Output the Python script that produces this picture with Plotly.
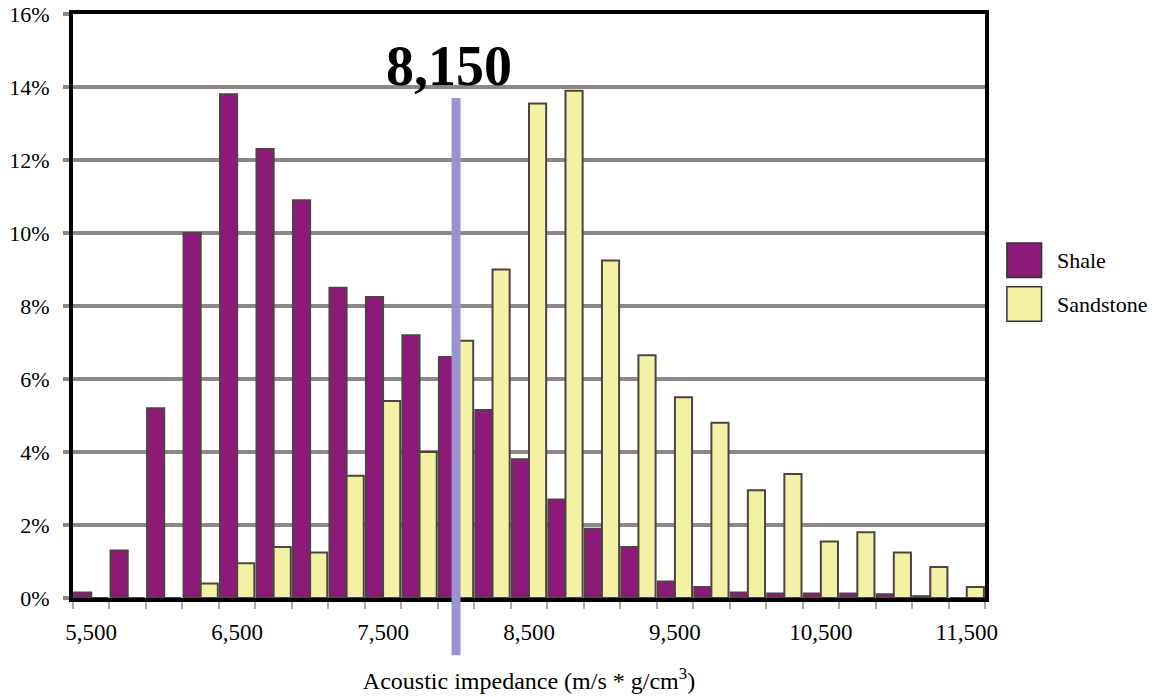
import plotly.graph_objects as go

# Data (percent of samples per acoustic-impedance bin)
bins = [5500, 5750, 6000, 6250, 6500, 6750, 7000, 7250, 7500, 7750, 8000, 8250, 8500,
        8750, 9000, 9250, 9500, 9750, 10000, 10250, 10500, 10750, 11000, 11250, 11500]
shale = [0.15, 1.3, 5.2, 10.0, 13.8, 12.3, 10.9, 8.5, 8.25, 7.2, 6.6, 5.15, 3.8,
         2.7, 1.9, 1.4, 0.45, 0.3, 0.15, 0.12, 0.12, 0.12, 0.1, 0.05, 0.0]
sandstone = [0.0, 0.0, 0.0, 0.4, 0.95, 1.4, 1.25, 3.35, 5.4, 4.0, 7.05, 9.0, 13.55,
             13.9, 9.25, 6.65, 5.5, 4.8, 2.95, 3.4, 1.55, 1.8, 1.25, 0.85, 0.3]
tick_vals = [5500, 6500, 7500, 8500, 9500, 10500, 11500]
tick_text = ["5,500", "6,500", "7,500", "8,500", "9,500", "10,500", "11,500"]
y_ticks = [0, 2, 4, 6, 8, 10, 12, 14, 16]
cutoff_x = 8000
cutoff_label = "8,150"
cutoff_top = 13.7

SHALE = "#8d1a79"
SAND = "#f3f2a4"
EDGE = "#4e4247"
GRID = "#8f8787"
FONT = "Liberation Serif, Times New Roman, serif"

fig = go.Figure()
fig.add_trace(go.Bar(x=bins, y=shale, name="Shale", marker=dict(color=SHALE, line=dict(color=EDGE, width=2))))
fig.add_trace(go.Bar(x=bins, y=sandstone, name="Sandstone", marker=dict(color=SAND, line=dict(color=EDGE, width=2))))

step = bins[1] - bins[0]
fig.update_layout(
    width=1158, height=697,
    margin=dict(l=73, r=173, t=14, b=99),
    paper_bgcolor="white", plot_bgcolor="white",
    barmode="group", bargap=0.06, bargroupgap=0.0,
    showlegend=False,
    font=dict(family=FONT, color="black", size=22),
)
fig.update_xaxes(
    automargin=False,
    range=[bins[0] - step / 2, bins[-1] + step / 2],
    tickvals=tick_vals, ticktext=tick_text, ticks="", ticklabelstandoff=10,
    ticklabeloverflow="allow",
    tickfont=dict(family=FONT, size=23),
    showgrid=False, zeroline=False,
    showline=True, linecolor="black", linewidth=4, mirror=True,
    minor=dict(tickvals=[b - step / 2 for b in bins] + [bins[-1] + step / 2],
               ticks="outside", ticklen=7, tickwidth=2, tickcolor="#b0aaaa", showgrid=False),
    title=dict(text="Acoustic impedance (m/s * g/cm<sup>3</sup>)", font=dict(family=FONT, size=24), standoff=30),
)
fig.update_yaxes(
    automargin=False,
    range=[0, 16], tickvals=y_ticks, ticktext=[f"{v}%" for v in y_ticks],
    ticks="outside", ticklen=6, tickwidth=4, tickcolor=GRID, ticklabelstandoff=9,
    ticklabeloverflow="allow",
    tickfont=dict(family=FONT, size=22),
    showgrid=True, gridcolor=GRID, gridwidth=4, zeroline=False,
    showline=True, linecolor="black", linewidth=4, mirror=True,
)

# cutoff line
fig.add_shape(type="line", xref="x", yref="paper", x0=cutoff_x, x1=cutoff_x,
              y0=-0.098, y1=cutoff_top / 16, line=dict(color="#9a92d2", width=9), layer="above")
fig.add_annotation(x=cutoff_x, y=14, xref="x", yref="y", text=f"<b>{cutoff_label}</b>",
                   showarrow=False, yanchor="bottom", xshift=-7, yshift=-12,
                   font=dict(family=FONT, size=56, color="black"))

# legend
legend_items = [("Shale", SHALE, 0.608), ("Sandstone", SAND, 0.533)]
for name, col, ytop in legend_items:
    fig.add_shape(type="rect", xref="paper", yref="paper", x0=1.024, x1=1.062,
                  y0=ytop - 0.059, y1=ytop, fillcolor=col, line=dict(color="#333", width=1.5))
    fig.add_annotation(xref="paper", yref="paper", x=1.077, y=ytop - 0.03, text=name,
                       showarrow=False, xanchor="left", yanchor="middle",
                       font=dict(family=FONT, size=22, color="black"))

fig.write_html("out.html", config={"displayModeBar": False},
               post_script="document.body.style.margin='0';")
